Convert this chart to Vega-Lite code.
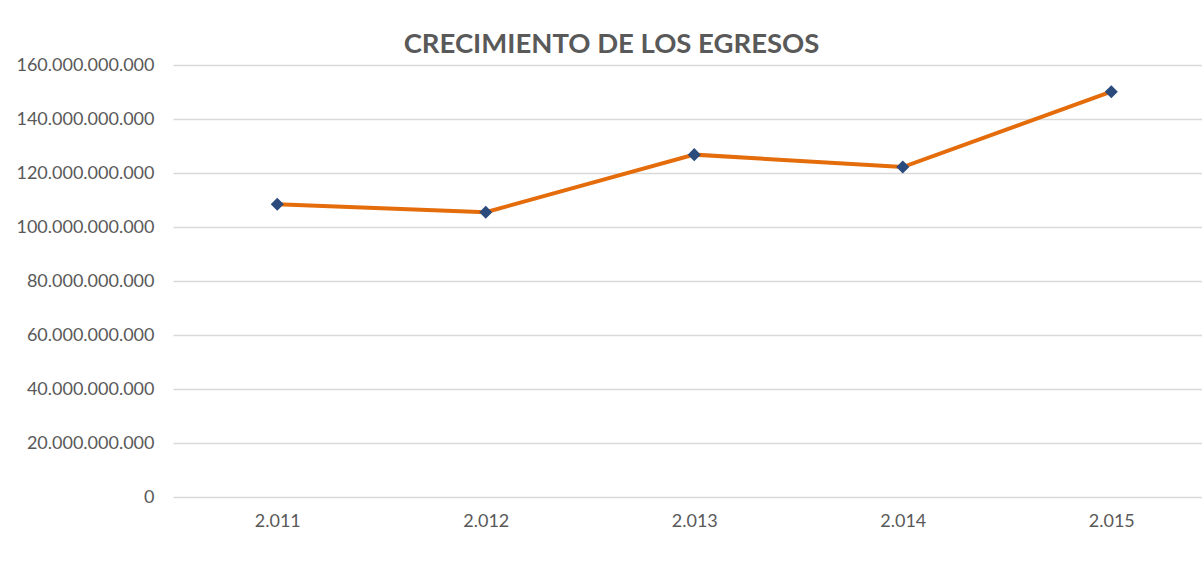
{
  "$schema": "https://vega.github.io/schema/vega-lite/v6.json",
  "autosize": {"type": "none"},
  "padding": {"left": 173, "top": 65, "right": 0, "bottom": 68},
  "width": 1029,
  "height": 432,
  "background": "white",
  "config": {
    "locale": {"number": {"decimal": ",", "thousands": ".", "grouping": [3], "currency": ["$", ""]}},
    "view": {"stroke": null},
    "font": "Lato"
  },
  "title": {
    "text": "CRECIMIENTO DE LOS EGRESOS",
    "font": "Lato",
    "fontSize": 27.5,
    "fontWeight": "bold",
    "color": "#595959",
    "anchor": "middle",
    "baseline": "alphabetic",
    "offset": -24,
    "dx": -76
  },
  "data": {
    "values": [
      {"anio": 2011, "egresos": 108400000000},
      {"anio": 2012, "egresos": 105500000000},
      {"anio": 2013, "egresos": 126800000000},
      {"anio": 2014, "egresos": 122200000000},
      {"anio": 2015, "egresos": 150100000000}
    ]
  },
  "encoding": {
    "x": {
      "field": "anio",
      "type": "quantitative",
      "scale": {"domain": [2010.5, 2015.435], "nice": false, "zero": false},
      "axis": {
        "title": null,
        "values": [2011, 2012, 2013, 2014, 2015],
        "format": ",d",
        "grid": false,
        "domain": false,
        "ticks": false,
        "labelFont": "Lato",
        "labelFontSize": 18,
        "labelColor": "#595959",
        "labelPadding": 15
      }
    },
    "y": {
      "field": "egresos",
      "type": "quantitative",
      "scale": {"domain": [0, 160000000000], "nice": false},
      "axis": {
        "title": null,
        "values": [0, 20000000000, 40000000000, 60000000000, 80000000000, 100000000000, 120000000000, 140000000000, 160000000000],
        "format": ",d",
        "domain": false,
        "ticks": false,
        "gridColor": "#D9D9D9",
        "gridWidth": 1.3,
        "labelFont": "Lato",
        "labelFontSize": 18,
        "labelColor": "#595959",
        "labelPadding": 19
      }
    }
  },
  "layer": [
    {"mark": {"type": "line", "color": "#E46C0A", "strokeWidth": 4}},
    {"mark": {"type": "point", "shape": "diamond", "filled": true, "color": "#2A4B7C", "opacity": 1, "size": 170}}
  ]
}
